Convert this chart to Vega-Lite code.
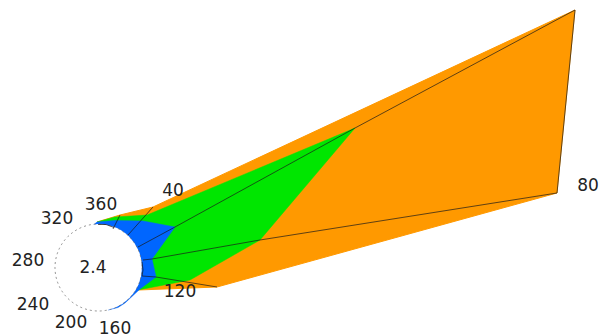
{
"$schema":"https://vega.github.io/schema/vega-lite/v6.json",
"width":601,"height":336,"padding":0,"autosize":{"type":"none"},
"background":"white",
"view":{"stroke":null},
"datasets":{
"orange":[{"u":97,"v":222,"o":1},{"u":120,"v":215,"o":2},{"u":153,"v":207,"o":3},{"u":575,"v":10,"o":5},{"u":557,"v":193,"o":6},{"u":217,"v":287,"o":7},{"u":138,"v":290,"o":8}],
"green":[{"u":97,"v":222,"o":1},{"u":115,"v":217,"o":2},{"u":147,"v":215,"o":3},{"u":355,"v":128,"o":4},{"u":260,"v":240,"o":5},{"u":190,"v":280,"o":6},{"u":138,"v":290,"o":7}],
"blue":[{"u":85,"v":232,"o":1},{"u":97,"v":222,"o":2},{"u":115,"v":220.5,"o":3},{"u":143,"v":221,"o":4},{"u":175,"v":227,"o":5},{"u":152,"v":259,"o":6},{"u":156,"v":277,"o":7},{"u":140,"v":289,"o":8},{"u":125,"v":303,"o":9},{"u":118,"v":307.5,"o":10},{"u":108,"v":310,"o":11},{"u":100,"v":270,"o":12}],
"hub":[{"u":98.5,"v":267.5}],
"mesh":[
{"k":"a","u":113,"v":229,"o":1},{"k":"a","u":120,"v":215,"o":2},
{"k":"b","u":128,"v":235,"o":1},{"k":"b","u":153,"v":207,"o":2},
{"k":"c","u":138,"v":247,"o":1},{"k":"c","u":175,"v":227,"o":2},{"k":"c","u":355,"v":128,"o":3},{"k":"c","u":575,"v":10,"o":4},{"k":"c","u":557,"v":193,"o":5},
{"k":"d","u":143,"v":260,"o":1},{"k":"d","u":152,"v":259,"o":2},{"k":"d","u":260,"v":240,"o":3},{"k":"d","u":557,"v":193,"o":4},
{"k":"e","u":142,"v":276,"o":1},{"k":"e","u":156,"v":277,"o":2},{"k":"e","u":217,"v":287,"o":3},
{"k":"f","u":98,"v":224.5,"o":1},{"k":"f","u":106,"v":224.5,"o":2},{"k":"f","u":114,"v":227.5,"o":3},
{"k":"h","u":142,"v":262,"o":1},{"k":"h","u":143,"v":270,"o":2},{"k":"h","u":142,"v":276,"o":3}
],
"labels":[
{"t":"40","u":173,"v":191},{"t":"360","u":101,"v":205},{"t":"320","u":57,"v":219},{"t":"280","u":28,"v":261},{"t":"2.4","u":93,"v":268},{"t":"240","u":33,"v":305},{"t":"200","u":71,"v":323},{"t":"160","u":115,"v":329},{"t":"120","u":180,"v":292},{"t":"80","u":588,"v":186}
]
},
"encoding":{
"x":{"field":"u","type":"quantitative","scale":{"domain":[0,601],"nice":false,"zero":false},"axis":null},
"y":{"field":"v","type":"quantitative","scale":{"domain":[336,0],"nice":false,"zero":false},"axis":null}
},
"layer":[
{"data":{"name":"orange"},"mark":{"type":"line","filled":true,"fill":"#ff9900","stroke":"#ff9900","strokeWidth":1},"encoding":{"order":{"field":"o"}}},
{"data":{"name":"green"},"mark":{"type":"line","filled":true,"fill":"#00e600","stroke":"#00e600","strokeWidth":0.5},"encoding":{"order":{"field":"o"}}},
{"data":{"name":"blue"},"mark":{"type":"line","filled":true,"fill":"#0066ff","stroke":"#0066ff","strokeWidth":0.5},"encoding":{"order":{"field":"o"}}},
{"data":{"name":"hub"},"mark":{"type":"point","shape":"circle","filled":true,"fill":"white","stroke":"#666666","strokeWidth":0.7,"strokeDash":[2,3],"size":7570,"opacity":1}},
{"data":{"name":"mesh"},"mark":{"type":"line","stroke":"#1a1a1a","strokeWidth":0.7},"encoding":{"order":{"field":"o"},"detail":{"field":"k"}}},
{"data":{"name":"labels"},"mark":{"type":"text","font":"DejaVu Sans","fontSize":17,"fill":"#222222","align":"center","baseline":"middle"},"encoding":{"text":{"field":"t"}}}
]
}
